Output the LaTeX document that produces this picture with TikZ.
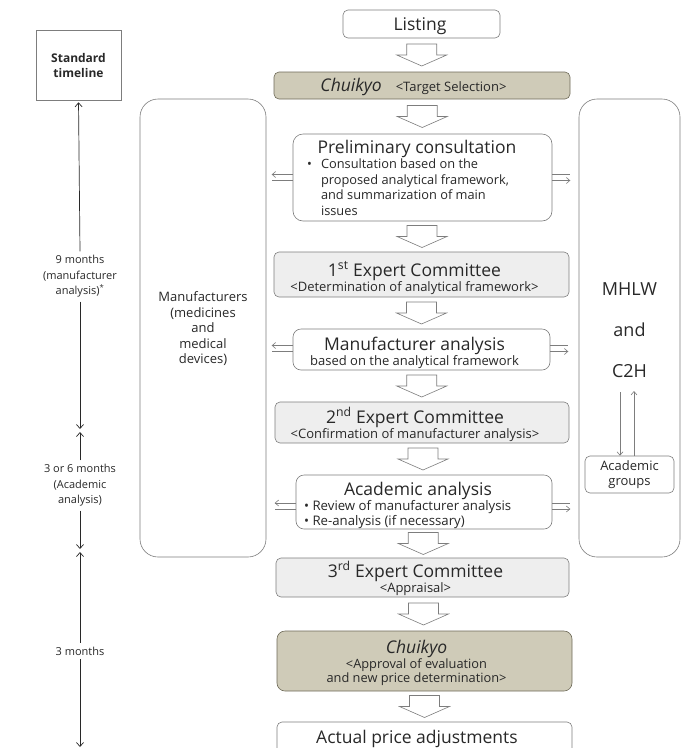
\documentclass[tikz,border=0pt]{standalone}
\usepackage{fontspec}
\setmainfont{Open Sans}
\usepackage{tikz}
\usetikzlibrary{arrows.meta, calc}
\definecolor{khakibox}{RGB}{207,203,184}
\definecolor{khakiline}{RGB}{110,106,88}
\definecolor{graybox}{RGB}{238,238,238}
\definecolor{boxline}{RGB}{125,125,125}
\definecolor{textgray}{RGB}{40,40,40}

\tikzset{
  stage/.style={draw=boxline, line width=0.6pt, rounded corners=5pt, inner sep=0pt, fill=white},
  khakistage/.style={stage, fill=khakibox, draw=khakiline},
  graystage/.style={stage, fill=graybox},
  bigpanel/.style={stage, rounded corners=18pt},
  stagetext/.style={text=textgray, align=center, inner sep=0pt},
  tlabel/.style={text=textgray, align=center, inner sep=4pt, font=\fontsize{11}{15.5}\selectfont},
  tline/.style={draw=textgray, line width=0.7pt, -{Straight Barb[length=4pt, width=7pt]}},
  sideline/.style={draw=boxline, line width=0.6pt},
  sidearrow/.style={sideline, -{Straight Barb[length=3.5pt, width=6pt]}},
  blockdown/.pic={
    \draw[draw=boxline, fill=white, line width=0.6pt]
      (-15,-11) -- (15,-11) -- (15,0) -- (25,0) -- (0,11) -- (-25,0) -- (-15,0) -- cycle;
  }
}
\newcommand{\stagetitle}[1]{{\fontsize{17.5}{18}\selectfont #1}}
\newcommand{\stagesub}[1]{{\fontsize{13}{14}\selectfont #1}}
\newcommand{\flowarrow}[2]{\path ($(#1.south)!0.5!(#2.north)$) pic {blockdown};}

\begin{document}
\begin{tikzpicture}[x=1pt, y=-1pt]
    \useasboundingbox (0,0) rectangle (689,748);

    % Side panels
    \node[bigpanel, minimum width=126pt, minimum height=458pt] (mfr) at (203,328) {};
    \node[stagetext, font=\fontsize{13}{15.5}\selectfont] (mfrT) at (203,329)
        {Manufacturers\\(medicines\\and\\medical\\devices)};
    \node[bigpanel, minimum width=101pt, minimum height=458pt] (mhlw) at (629.5,328) {};
    \node[stagetext, font=\fontsize{18}{20}\selectfont] (mhlwT) at (629.5,330)
        {MHLW\\[21pt]and\\[21pt]C2H};
    \node[stage, minimum width=89pt, minimum height=37pt] (agrp) at (629.5,474.5) {};
    \node[stagetext, font=\fontsize{13}{15}\selectfont] (agrpT) at (agrp.center) {Academic\\groups};
    \coordinate (mdown) at (620,392);
    \coordinate (mup) at (634,391);
    \draw[sidearrow] (mdown) -- (mdown |- agrp.north);
    \draw[sidearrow] (mup |- agrp.north) -- (mup);

    % Main flow
    \node[stage, minimum width=157pt, minimum height=28pt] (listing) at (421.5,24) {};
    \node[stagetext] (listingT) at (420,26) {{\fontsize{17.5}{18}\selectfont Listing}};
    \node[khakistage, minimum width=296pt, minimum height=27pt] (chutop) at (422,85.5) {};
    \node[stagetext] (chutopT) at ([xshift=-8.5pt, yshift=-1.5pt]chutop.center)
        {\stagetitle{\itshape Chuikyo}\hspace{14pt}\stagesub{<Target Selection>}};
    \node[stage, rounded corners=10pt, minimum width=259pt, minimum height=87pt] (prelim) at (422.5,177.5) {};
    \node[stagetext] (prelimT) at (417,148.5) {\stagetitle{Preliminary consultation}};
    \node[stagetext, anchor=north west, font=\fontsize{12.8}{15.5}\selectfont] (prelimB) at (307,157.5)
        {\begin{tabular}{@{}l@{\hspace{9pt}}l@{}}
          \textbullet & Consultation based on the\\
                      & proposed analytical framework,\\
                      & and summarization of main\\
                      & issues
        \end{tabular}};
    \node[graystage, minimum width=295pt, minimum height=45pt] (ec1) at (421.5,274.5) {};
    \node[stagetext] (ec1T) at ([xshift=-7pt, yshift=-3.5pt]ec1.center)
        {\stagetitle{1\textsuperscript{st} Expert Committee}\\\stagesub{<Determination of analytical framework>}};
    \node[stage, rounded corners=8pt, minimum width=257pt, minimum height=41pt] (manu) at (421.5,349.5) {};
    \node[stagetext] (manuT) at ([xshift=-7pt, yshift=-3pt]manu.center)
        {\stagetitle{Manufacturer analysis}\\\stagesub{based on the analytical framework}};
    \node[graystage, minimum width=294pt, minimum height=41pt] (ec2) at (422,422.5) {};
    \node[stagetext] (ec2T) at ([xshift=-7pt, yshift=-2pt]ec2.center)
        {\stagetitle{2\textsuperscript{nd} Expert Committee}\\\stagesub{<Confirmation of manufacturer analysis>}};
    \node[stage, rounded corners=8pt, minimum width=256pt, minimum height=54pt] (acad) at (424,502) {};
    \node[stagetext] (acadT) at (418,490.5) {\stagetitle{Academic analysis}};
    \node[stagetext, anchor=north west, font=\fontsize{13.2}{15.5}\selectfont] (acadB) at (304,499)
        {\begin{tabular}{@{}l@{}}
          \textbullet\ Review of manufacturer analysis\\
          \textbullet\ Re-analysis (if necessary)
        \end{tabular}};
    \node[graystage, minimum width=293pt, minimum height=39pt] (ec3) at (422.5,577.5) {};
    \node[stagetext] (ec3T) at ([xshift=-7pt, yshift=-1pt]ec3.center)
        {\stagetitle{3\textsuperscript{rd} Expert Committee}\\\stagesub{<Appraisal>}};
    \node[khakistage, rounded corners=8pt, minimum width=295pt, minimum height=60pt] (chuapp) at (424.5,661) {};
    \node[stagetext] (chuappT) at ([xshift=-8pt, yshift=-1.5pt]chuapp.center)
        {\stagetitle{\itshape Chuikyo}\\{\fontsize{12.8}{14}\selectfont <Approval of evaluation}\\{\fontsize{12.8}{14}\selectfont and new price determination>}};
    \node[stage, minimum width=295pt, minimum height=46pt] (actual) at (424.5,745) {};
    \node[stagetext] (actualT) at (417,739) {\stagetitle{Actual price adjustments}};

    % Block arrows
    \flowarrow{listing}{chutop}
    \flowarrow{chutop}{prelim}
    \flowarrow{prelim}{ec1}
    \flowarrow{ec1}{manu}
    \flowarrow{manu}{ec2}
    \flowarrow{ec2}{acad}
    \flowarrow{acad}{ec3}
    \flowarrow{ec3}{chuapp}
    \flowarrow{chuapp}{actual}

    % Side arrows
    \foreach \stg/\dy in {prelim/0, manu/1, acad/-4}{
      \draw[sidearrow] ([yshift=\dy pt+3pt]\stg.west) -- ++(-21,0);
      \draw[sideline] ([yshift=\dy pt-3pt]\stg.west) -- ++(-21,0);
      \draw[sideline] ([yshift=\dy pt+3pt]\stg.east) -- ++(18,0);
      \draw[sidearrow] ([yshift=\dy pt-3pt]\stg.east) -- ++(18,0);
    }

    % Standard timeline
    \node[draw=boxline, line width=0.6pt, minimum width=85pt, minimum height=70pt, align=center,
        text=textgray, font=\fontsize{12}{15}\selectfont\bfseries] (std) at (78.5,65) {Standard\\timeline};
    \node[tlabel] (nine) at (80,276.5) {9 months\\(manufacturer\\analysis)\textsuperscript{*}};
    \node[tlabel] (threesix) at (80,485.5) {3 or 6 months\\(Academic\\analysis)};
    \node[tlabel] (three) at (80,651) {3 months};
    \coordinate (t1) at (80,429);
    \coordinate (t2) at (80,432);
    \coordinate (t3) at (80,549);
    \coordinate (t4) at (80,552);
    \coordinate (tend) at (80,747);
    \draw[tline, shorten >=2pt] (nine.north) -- (std.south);
    \draw[tline] (nine.south) -- (t1);
    \draw[tline] (threesix.north) -- (t2);
    \draw[tline] (threesix.south) -- (t3);
    \draw[tline] (three.north) -- (t4);
    \draw[tline] (three.south) -- (tend);
\end{tikzpicture}
\end{document}
